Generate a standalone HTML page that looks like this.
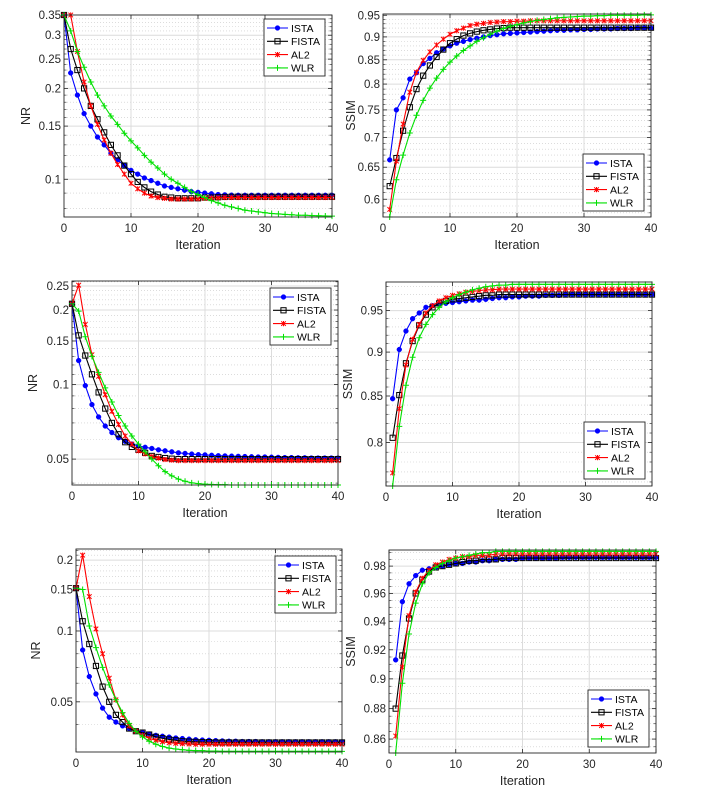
<!DOCTYPE html>
<html><head><meta charset="utf-8">
<style>
body{margin:0;background:#fff;}
svg{display:block;font-family:"Liberation Sans",Arial,sans-serif;}
</style></head>
<body>
<svg id="fig" width="706" height="793" viewBox="0 0 706 793" xmlns="http://www.w3.org/2000/svg"></svg>
<script>
const seriesNames = ["ISTA","FISTA","AL2","WLR"];
const seriesColors = ["#0000ff","#000000","#ff0000","#00e000"];

const p1ISTA = [0.35,0.225,0.19,0.165,0.15,0.138,0.13,0.122,0.116,0.111,0.107,0.104,0.101,0.099,0.097,0.095,0.094,0.093,0.092,0.091,0.0905,0.09,0.0895,0.089,0.0888,0.0886,0.0885,0.0885,0.0885,0.0885,0.0885,0.0885,0.0885,0.0885,0.0885,0.0885,0.0885,0.0885,0.0885,0.0885,0.0885];
const p1FISTA = [0.35,0.27,0.23,0.2,0.175,0.158,0.143,0.13,0.12,0.111,0.104,0.098,0.094,0.091,0.089,0.0875,0.087,0.0865,0.0865,0.0865,0.0865,0.087,0.087,0.0872,0.0874,0.0875,0.0875,0.0875,0.0875,0.0875,0.0875,0.0875,0.0875,0.0875,0.0875,0.0875,0.0875,0.0875,0.0875,0.0875,0.0875];
const p1AL2 = [0.35,0.355,0.265,0.21,0.175,0.152,0.135,0.122,0.112,0.104,0.097,0.093,0.09,0.088,0.087,0.0865,0.086,0.086,0.086,0.086,0.0862,0.0865,0.0867,0.0868,0.087,0.087,0.087,0.087,0.087,0.087,0.087,0.087,0.087,0.087,0.087,0.087,0.087,0.087,0.087,0.087,0.087];
const p1WLR = [0.35,0.31,0.265,0.235,0.21,0.19,0.175,0.162,0.152,0.142,0.134,0.127,0.12,0.114,0.109,0.104,0.1,0.097,0.094,0.091,0.089,0.087,0.085,0.0835,0.082,0.081,0.08,0.079,0.0785,0.078,0.0775,0.077,0.0768,0.0765,0.0763,0.076,0.076,0.0758,0.0757,0.0756,0.0755];

const p2ISTA = [0.662,0.75,0.773,0.81,0.823,0.842,0.853,0.865,0.873,0.88,0.886,0.89,0.894,0.897,0.9,0.903,0.905,0.907,0.908,0.909,0.91,0.911,0.912,0.913,0.914,0.915,0.915,0.916,0.916,0.917,0.917,0.918,0.918,0.918,0.919,0.919,0.919,0.92,0.92,0.92];
const p2FISTA = [0.62,0.665,0.712,0.755,0.79,0.817,0.838,0.856,0.872,0.886,0.895,0.903,0.908,0.912,0.915,0.917,0.919,0.92,0.921,0.921,0.921,0.921,0.921,0.921,0.921,0.921,0.921,0.921,0.921,0.921,0.921,0.921,0.921,0.921,0.921,0.921,0.921,0.921,0.921,0.921];
const p2AL2 = [0.585,0.66,0.724,0.784,0.824,0.849,0.867,0.882,0.895,0.906,0.914,0.92,0.926,0.929,0.931,0.933,0.934,0.935,0.935,0.936,0.936,0.937,0.937,0.937,0.937,0.937,0.937,0.937,0.937,0.937,0.937,0.937,0.937,0.937,0.937,0.937,0.937,0.937,0.937,0.937];
const p2WLR = [0.574,0.63,0.67,0.708,0.74,0.768,0.792,0.812,0.83,0.845,0.858,0.87,0.88,0.89,0.898,0.906,0.913,0.919,0.924,0.928,0.932,0.935,0.938,0.94,0.942,0.944,0.945,0.946,0.947,0.948,0.948,0.949,0.949,0.95,0.95,0.95,0.95,0.95,0.951,0.951];

const p3ISTA = [0.212,0.125,0.099,0.083,0.074,0.068,0.064,0.061,0.059,0.0575,0.0565,0.0558,0.0552,0.0545,0.054,0.0535,0.053,0.0527,0.0524,0.0521,0.052,0.0518,0.0516,0.0515,0.0514,0.0513,0.0512,0.0511,0.051,0.051,0.0509,0.0508,0.0507,0.0507,0.0506,0.0506,0.0505,0.0505,0.0505,0.0505,0.0505];
const p3FISTA = [0.212,0.158,0.131,0.11,0.093,0.08,0.07,0.063,0.0585,0.056,0.0545,0.053,0.0515,0.051,0.0505,0.0502,0.05,0.05,0.05,0.05,0.05,0.05,0.05,0.05,0.05,0.05,0.05,0.05,0.05,0.05,0.05,0.05,0.05,0.05,0.05,0.05,0.05,0.05,0.05,0.05,0.05];
const p3AL2 = [0.212,0.252,0.175,0.132,0.108,0.091,0.078,0.069,0.062,0.0575,0.054,0.0525,0.0512,0.0505,0.0498,0.0495,0.0493,0.0493,0.0493,0.0493,0.0493,0.0493,0.0493,0.0493,0.0493,0.0493,0.0493,0.0493,0.0493,0.0493,0.0493,0.0493,0.0493,0.0493,0.0493,0.0493,0.0493,0.0493,0.0493,0.0493,0.0493];
const p3WLR = [0.212,0.198,0.156,0.13,0.112,0.097,0.085,0.075,0.068,0.062,0.0575,0.0535,0.05,0.047,0.0445,0.0428,0.0415,0.0407,0.0401,0.0398,0.0396,0.0395,0.0394,0.0394,0.0393,0.0393,0.0393,0.0393,0.0393,0.0393,0.0393,0.0393,0.0393,0.0393,0.0393,0.0393,0.0393,0.0393,0.0393,0.0393,0.0393];

const p4ISTA = [0.847,0.903,0.925,0.94,0.947,0.954,0.956,0.958,0.959,0.96,0.961,0.962,0.963,0.963,0.964,0.965,0.966,0.966,0.967,0.967,0.968,0.968,0.968,0.969,0.969,0.969,0.97,0.97,0.97,0.97,0.97,0.97,0.97,0.97,0.97,0.97,0.97,0.97,0.97,0.97];
const p4FISTA = [0.805,0.851,0.887,0.913,0.932,0.945,0.954,0.959,0.962,0.964,0.965,0.966,0.967,0.968,0.969,0.969,0.97,0.97,0.97,0.97,0.97,0.97,0.97,0.97,0.97,0.97,0.97,0.97,0.97,0.97,0.97,0.97,0.97,0.97,0.97,0.97,0.97,0.97,0.97,0.97];
const p4AL2 = [0.769,0.836,0.885,0.915,0.933,0.947,0.956,0.962,0.966,0.969,0.971,0.973,0.974,0.975,0.976,0.976,0.977,0.977,0.977,0.977,0.977,0.977,0.977,0.977,0.977,0.977,0.977,0.977,0.977,0.977,0.977,0.977,0.977,0.977,0.977,0.977,0.977,0.977,0.977,0.977];
const p4WLR = [0.756,0.817,0.862,0.894,0.917,0.933,0.945,0.954,0.961,0.966,0.97,0.973,0.976,0.978,0.98,0.981,0.982,0.982,0.983,0.983,0.983,0.983,0.983,0.983,0.983,0.983,0.983,0.983,0.983,0.983,0.983,0.983,0.983,0.983,0.983,0.983,0.983,0.983,0.983,0.983];

const p5ISTA = [0.152,0.083,0.064,0.054,0.047,0.043,0.041,0.0395,0.0385,0.0375,0.037,0.0365,0.036,0.0357,0.0354,0.0351,0.0349,0.0347,0.0345,0.0344,0.0343,0.0342,0.0341,0.034,0.034,0.0339,0.0339,0.0339,0.0338,0.0338,0.0338,0.0338,0.0338,0.0338,0.0338,0.0338,0.0338,0.0338,0.0338,0.0338,0.0338];
const p5FISTA = [0.152,0.11,0.088,0.071,0.058,0.05,0.044,0.041,0.0385,0.0375,0.037,0.0363,0.0355,0.035,0.0346,0.0343,0.034,0.0339,0.0338,0.0337,0.0337,0.0336,0.0336,0.0336,0.0336,0.0336,0.0336,0.0336,0.0336,0.0336,0.0336,0.0336,0.0336,0.0336,0.0336,0.0336,0.0336,0.0336,0.0336,0.0336,0.0336];
const p5AL2 = [0.152,0.21,0.14,0.102,0.08,0.063,0.051,0.044,0.0395,0.0375,0.036,0.035,0.0343,0.0338,0.0335,0.0333,0.0332,0.0331,0.033,0.033,0.033,0.033,0.033,0.033,0.033,0.033,0.033,0.033,0.033,0.033,0.033,0.033,0.033,0.033,0.033,0.033,0.033,0.033,0.033,0.033,0.033];
const p5WLR = [0.152,0.15,0.105,0.085,0.07,0.059,0.051,0.045,0.0405,0.0375,0.0355,0.034,0.033,0.0323,0.0318,0.0315,0.0313,0.0311,0.031,0.031,0.0309,0.0309,0.0308,0.0308,0.0308,0.0308,0.0308,0.0308,0.0308,0.0308,0.0308,0.0308,0.0308,0.0308,0.0308,0.0308,0.0308,0.0308,0.0308,0.0308,0.0308];

const p6ISTA = [0.913,0.954,0.967,0.973,0.977,0.978,0.979,0.98,0.981,0.982,0.982,0.983,0.983,0.984,0.984,0.985,0.985,0.985,0.985,0.986,0.986,0.986,0.986,0.986,0.986,0.9865,0.9865,0.9865,0.9865,0.9865,0.9865,0.9865,0.9865,0.9865,0.9865,0.9865,0.9865,0.9865,0.9865,0.9865];
const p6FISTA = [0.88,0.916,0.942,0.96,0.97,0.976,0.979,0.98,0.981,0.982,0.983,0.984,0.984,0.985,0.985,0.985,0.986,0.986,0.986,0.986,0.986,0.986,0.986,0.986,0.986,0.986,0.986,0.986,0.986,0.986,0.986,0.986,0.986,0.986,0.986,0.986,0.986,0.986,0.986,0.986];
const p6AL2 = [0.862,0.908,0.944,0.961,0.971,0.977,0.981,0.983,0.985,0.986,0.987,0.987,0.988,0.988,0.988,0.989,0.989,0.989,0.989,0.989,0.989,0.989,0.989,0.989,0.989,0.989,0.989,0.989,0.989,0.989,0.989,0.989,0.989,0.989,0.989,0.989,0.989,0.989,0.989,0.989];
const p6WLR = [0.851,0.897,0.931,0.953,0.967,0.975,0.979,0.982,0.984,0.986,0.987,0.988,0.989,0.99,0.99,0.991,0.991,0.991,0.991,0.991,0.991,0.991,0.991,0.991,0.991,0.991,0.991,0.991,0.991,0.991,0.991,0.991,0.991,0.991,0.991,0.991,0.991,0.991,0.991,0.991];

const xTicks = [0,10,20,30,40];
const p1Ticks = [0.1,0.15,0.2,0.25,0.3,0.35];
const p2Ticks = [0.6,0.65,0.7,0.75,0.8,0.85,0.9,0.95];
const p3Ticks = [0.05,0.1,0.15,0.2,0.25];
const p4Ticks = [0.8,0.85,0.9,0.95];
const p5Ticks = [0.05,0.1,0.15,0.2];
const p6Ticks = [0.86,0.88,0.9,0.92,0.94,0.96,0.98];

const NS = "http://www.w3.org/2000/svg";
const fig = document.getElementById('fig');
function mk(tag, attrs, parent){
  const e = document.createElementNS(NS, tag);
  for (const k in attrs) e.setAttribute(k, attrs[k]);
  (parent||fig).appendChild(e);
  return e;
}

const panels = [
  {id:'nr-top', L:64,R:332,T:15,B:217, ymin:0.075, ymax:0.35, ticks:p1Ticks, minor:0.01, ylabel:'NR', ylx:30, x0:0, data:[p1ISTA,p1FISTA,p1AL2,p1WLR], leg:[264,19]},
  {id:'ssim-top', L:383,R:651,T:14,B:217, ymin:0.574, ymax:0.953, ticks:p2Ticks, minor:0.01, ylabel:'SSIM', ylx:355, x0:1, data:[p2ISTA,p2FISTA,p2AL2,p2WLR], leg:[583,154]},
  {id:'nr-mid', L:72,R:338,T:281,B:485, ymin:0.0393, ymax:0.262, ticks:p3Ticks, minor:0.01, ylabel:'NR', ylx:37, x0:0, data:[p3ISTA,p3FISTA,p3AL2,p3WLR], leg:[270,288]},
  {id:'ssim-mid', L:386,R:652,T:282,B:486, ymin:0.756, ymax:0.986, ticks:p4Ticks, minor:0.01, ylabel:'SSIM', ylx:352, x0:1, data:[p4ISTA,p4FISTA,p4AL2,p4WLR], leg:[584,422]},
  {id:'nr-bottom', L:76,R:342,T:549,B:752, ymin:0.0306, ymax:0.223, ticks:p5Ticks, minor:0.01, ylabel:'NR', ylx:40, x0:0, data:[p5ISTA,p5FISTA,p5AL2,p5WLR], leg:[275,556]},
  {id:'ssim-bottom', L:389,R:656,T:550,B:753, ymin:0.851, ymax:0.992, ticks:p6Ticks, minor:0.005, ylabel:'SSIM', ylx:355, x0:1, data:[p6ISTA,p6FISTA,p6AL2,p6WLR], leg:[588,690]}
];

function marker(g, kind, x, y, color){
  let m;
  if (kind===0){ m = mk('circle',{cx:x,cy:y,r:2.4,fill:color,stroke:color,'stroke-width':0.5},g); }
  else if (kind===1){ m = mk('rect',{x:x-2.6,y:y-2.6,width:5.2,height:5.2,fill:'none',stroke:color,'stroke-width':1},g); }
  else if (kind===2){ m = mk('path',{d:`M${x-2.3},${y-2.3}L${x+2.3},${y+2.3}M${x-2.3},${y+2.3}L${x+2.3},${y-2.3}M${x},${y-2.6}L${x},${y+2.6}`,stroke:color,'stroke-width':1,fill:'none'},g); }
  else { m = mk('path',{d:`M${x-3},${y}L${x+3},${y}M${x},${y-3}L${x},${y+3}`,stroke:color,'stroke-width':1,fill:'none'},g); }
  return m;
}

panels.forEach(p=>{
  const g = mk('g',{});
  
  
  const xs = v => p.L + (v-0)/(40-0)*(p.R-p.L);
  const ly0 = Math.log10(p.ymin), ly1 = Math.log10(p.ymax);
  const ys = v => p.B - (Math.log10(v)-ly0)/(ly1-ly0)*(p.B-p.T);
  // minor grid
  const start = Math.ceil(p.ymin/p.minor - 1e-9);
  for (let k=start; k*p.minor<=p.ymax+1e-9; k++){
    const v = k*p.minor;
    if (p.ticks.some(t=>Math.abs(t-v)<1e-9)) continue;
    const y = ys(v);
    const l = mk('line',{x1:p.L,x2:p.R,y1:y,y2:y,stroke:'#c8c8c8','stroke-width':0.6,'stroke-dasharray':'1,2'},g);
    
    
    mk('line',{x1:p.L,x2:p.L+2.5,y1:y,y2:y,stroke:'#262626','stroke-width':0.6},g);
    mk('line',{x1:p.R,x2:p.R-2.5,y1:y,y2:y,stroke:'#262626','stroke-width':0.6},g);
  }
  // major y grid + labels
  p.ticks.forEach(t=>{
    const y = ys(t);
    const l = mk('line',{x1:p.L,x2:p.R,y1:y,y2:y,stroke:'#dcdcdc','stroke-width':1},g);
    
    
    mk('line',{x1:p.L,x2:p.L+4,y1:y,y2:y,stroke:'#262626','stroke-width':0.8},g);
    mk('line',{x1:p.R,x2:p.R-4,y1:y,y2:y,stroke:'#262626','stroke-width':0.8},g);
    const tx = mk('text',{x:p.L-3,y:y+4,'text-anchor':'end','font-size':11.5,fill:'#262626'},g);
    tx.textContent = String(t);
    
    
  });
  // x grid + labels
  xTicks.forEach(t=>{
    const x = xs(t);
    if (t>0 && t<40){
      const l = mk('line',{x1:x,x2:x,y1:p.T,y2:p.B,stroke:'#dcdcdc','stroke-width':1},g);
      
      
    }
    mk('line',{x1:x,x2:x,y1:p.B,y2:p.B-4,stroke:'#262626','stroke-width':0.8},g);
    mk('line',{x1:x,x2:x,y1:p.T,y2:p.T+4,stroke:'#262626','stroke-width':0.8},g);
    const tx = mk('text',{x:x,y:p.B+15,'text-anchor':'middle','font-size':11.5,fill:'#262626'},g);
    tx.textContent = String(t);
    
    
  });
  // series
  p.data.forEach((arr,si)=>{
    const sg = mk('g',{},g);
    
    
    const pts = arr.map((v,i)=>[xs(i+p.x0), ys(Math.max(p.ymin,Math.min(p.ymax,v)))]);
    mk('polyline',{points:pts.map(q=>q[0].toFixed(2)+','+q[1].toFixed(2)).join(' '),fill:'none',stroke:seriesColors[si],'stroke-width':1.1},sg);
    pts.forEach(q=>{
      const m = marker(sg, si, q[0], q[1], seriesColors[si]);
      
      
    });
  });
  // box
  const box = mk('rect',{x:p.L,y:p.T,width:p.R-p.L,height:p.B-p.T,fill:'none',stroke:'#262626','stroke-width':0.9},g);
  
  
  // axis labels
  const xl = mk('text',{x:(p.L+p.R)/2,y:p.B+32,'text-anchor':'middle','font-size':12.5,fill:'#262626'},g);
  xl.textContent = 'Iteration';
  
  
  const cy = (p.T+p.B)/2;
  const yl = mk('text',{x:p.ylx,y:cy,'text-anchor':'middle','font-size':12.5,fill:'#262626',transform:`rotate(-90 ${p.ylx} ${cy})`},g);
  yl.textContent = p.ylabel;
  
  
  // legend
  const lg = mk('g',{},g);
  
  
  const [lx,lyy] = p.leg;
  mk('rect',{x:lx,y:lyy,width:61,height:57,fill:'#fff',stroke:'#262626','stroke-width':0.9},lg);
  seriesNames.forEach((n,si)=>{
    const ey = lyy+9+si*13.3;
    const eg = mk('g',{},lg);
    
    
    mk('line',{x1:lx+3,x2:lx+24,y1:ey,y2:ey,stroke:seriesColors[si],'stroke-width':1.1},eg);
    marker(eg, si, lx+13.5, ey, seriesColors[si]);
    const t = mk('text',{x:lx+27,y:ey+3.8,'font-size':10.5,fill:'#000'},eg);
    t.textContent = n;
  });
});
</script>
</body></html>
